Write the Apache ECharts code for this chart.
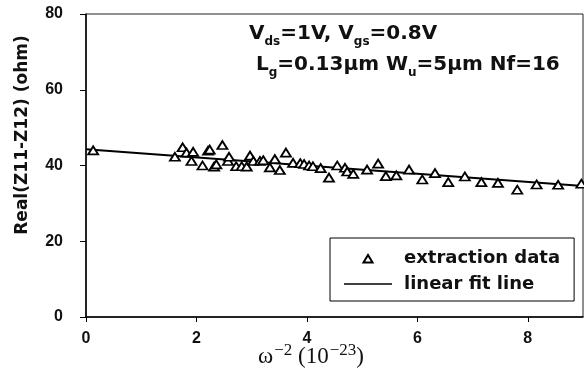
<!DOCTYPE html>
<html>
<head>
<meta charset="utf-8">
<script src="https://cdn.jsdelivr.net/npm/echarts@6/dist/echarts.min.js"></script>
<style>
  html, body { margin: 0; padding: 0; background: #fff; }
  #chart { width: 584px; height: 379px; }
</style>
</head>
<body>
<div id="chart"></div>
<script>
// extraction data
var extX = [0.13, 1.61, 1.75, 1.82, 1.94, 1.91, 2.11, 2.21, 2.24, 2.32, 2.36, 2.47, 2.57, 2.59, 2.72,
            2.82, 2.91, 2.97, 3.03, 3.15, 3.21, 3.33, 3.42, 3.51, 3.62, 3.75, 3.88, 3.95, 4.04, 4.11,
            4.25, 4.40, 4.55, 4.69, 4.73, 4.84, 5.09, 5.29, 5.43, 5.62, 5.85, 6.09, 6.32, 6.56, 6.86,
            7.16, 7.46, 7.81, 8.16, 8.55, 8.97];
var extY = [44.0, 42.3, 44.8, 43.4, 43.6, 41.2, 40.0, 43.9, 44.2, 39.7, 40.3, 45.4, 41.2, 42.3, 39.8,
            39.8, 39.7, 42.6, 41.2, 41.2, 41.4, 39.5, 41.7, 38.8, 43.4, 40.7, 40.6, 40.4, 40.0, 39.8,
            39.3, 36.8, 40.0, 39.4, 38.4, 37.8, 38.9, 40.5, 37.2, 37.4, 38.9, 36.3, 38.0, 35.6, 37.1,
            35.6, 35.4, 33.6, 35.0, 34.9, 35.2];
// linear fit line end points
var fitX = [0, 9];
var fitY = [44.3, 34.6];
var xTicks = [0, 2, 4, 6, 8];

var chart = echarts.init(document.getElementById('chart'));
var bold = 'DejaVu Sans';

// legend icons: small triangle in the middle of a 48px slot, and a plain thin bar
var triIcon = 'path://M0,0 M48,11 M19.5,10 L24,2.5 L28.5,10 Z';
var barIcon = 'path://M0,0 M48,11 M0,4.8 L48,4.8 L48,6.2 L0,6.2 Z';

var option = {
  animation: false,
  backgroundColor: '#fff',
  grid: {
    left: 86, right: 1, top: 14, bottom: 62,
    show: true, borderColor: '#222', borderWidth: 1,
    containLabel: false, outerBoundsMode: 'none'
  },
  xAxis: {
    type: 'value', min: 0, max: 9, interval: 2,
    axisLine: { lineStyle: { color: '#000', width: 1.5 } },
    axisTick: { length: 5, lineStyle: { color: '#000' } },
    axisLabel: {
      margin: 14, color: '#111', fontFamily: 'Liberation Sans', fontWeight: 'bold', fontSize: 16,
      showMaxLabel: false,
      formatter: function (v) { return xTicks.indexOf(v) >= 0 ? String(v) : ''; }
    },
    splitLine: { show: false }
  },
  yAxis: {
    type: 'value', min: 0, max: 80, interval: 20,
    axisLine: { show: true, lineStyle: { color: '#000', width: 1.5 } },
    axisTick: { show: true, length: 6, lineStyle: { color: '#000' } },
    axisLabel: { margin: 23, color: '#111', fontFamily: 'Liberation Sans', fontWeight: 'bold', fontSize: 16 },
    splitLine: { show: false }
  },
  legend: {
    orient: 'vertical',
    left: 330, top: 238,
    padding: [11, 14, 8, 13],
    itemGap: 8,
    itemWidth: 48, itemHeight: 11,
    borderColor: '#000', borderWidth: 1,
    backgroundColor: '#fff',
    textStyle: { fontFamily: bold, fontWeight: 'bold', fontSize: 18, color: '#111', padding: [0, 0, 0, 7] },
    data: [
      { name: 'extraction data', icon: triIcon },
      { name: 'linear fit line', icon: barIcon }
    ]
  },
  series: [
    {
      name: 'extraction data',
      type: 'scatter',
      symbol: 'triangle',
      symbolSize: [10, 8],
      z: 3,
      itemStyle: { color: '#fff', borderColor: '#000', borderWidth: 1.8, opacity: 1 },
      data: extX.map(function (x, i) { return [x, extY[i]]; })
    },
    {
      name: 'linear fit line',
      type: 'line',
      symbol: 'none',
      z: 2,
      lineStyle: { color: '#000', width: 2 },
      itemStyle: { color: '#000' },
      data: fitX.map(function (x, i) { return [x, fitY[i]]; })
    }
  ],
  graphic: [
    {
      type: 'text', left: 249, top: 24, z: 10,
      style: {
        text: '{m|V}{s|ds}{m|=1V, V}{s|gs}{m|=0.8V}',
        fill: '#111',
        rich: {
          m: { fontFamily: bold, fontWeight: 'bold', fontSize: 20, fill: '#111' },
          s: { fontFamily: bold, fontWeight: 'bold', fontSize: 12, fill: '#111', padding: [16, 0, 0, 0] }
        }
      }
    },
    {
      type: 'text', left: 256, top: 55, z: 10,
      style: {
        text: '{m|L}{s|g}{m|=0.13μm W}{s|u}{m|=5μm Nf=16}',
        fill: '#111',
        rich: {
          m: { fontFamily: bold, fontWeight: 'bold', fontSize: 20, fill: '#111' },
          s: { fontFamily: bold, fontWeight: 'bold', fontSize: 12, fill: '#111', padding: [16, 0, 0, 0] }
        }
      }
    },
    {
      type: 'text', x: 311, y: 357, z: 10,
      style: {
        text: '{w|ω}{p|−2}{w| (10}{p|−23}{w|)}',
        align: 'center', verticalAlign: 'middle',
        fill: '#111',
        rich: {
          w: { fontFamily: 'Liberation Serif', fontSize: 23, fill: '#111' },
          p: { fontFamily: 'Liberation Serif', fontSize: 17, fill: '#111', padding: [0, 0, 13, 1] }
        }
      }
    },
    {
      type: 'text', x: 23, y: 135, rotation: Math.PI / 2, z: 10,
      style: {
        text: 'Real(Z11-Z12) (ohm)',
        align: 'center', verticalAlign: 'middle',
        fill: '#111',
        font: 'bold 17px "DejaVu Sans"'
      }
    }
  ]
};

chart.setOption(option);
</script>
</body>
</html>
